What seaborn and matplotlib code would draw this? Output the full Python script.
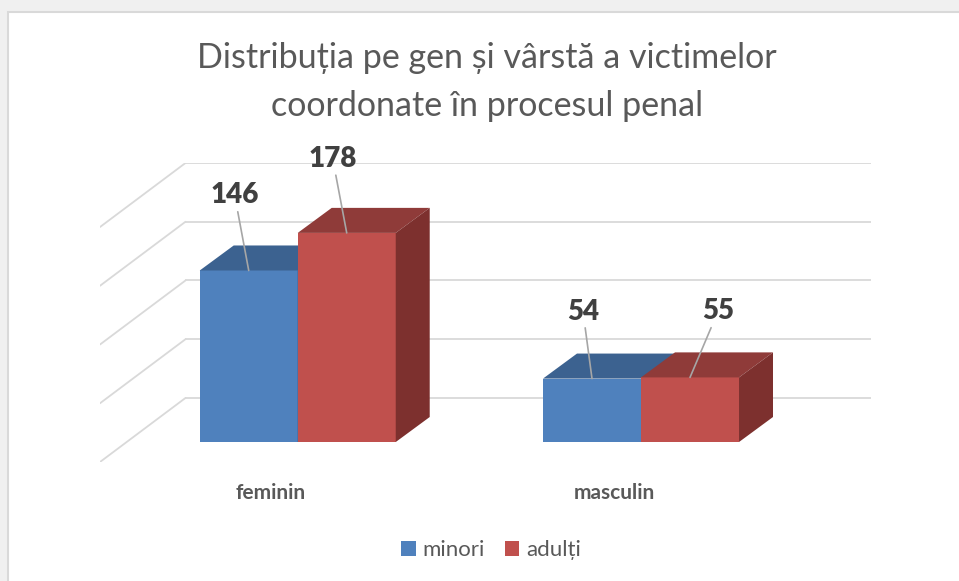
import numpy as np
import pandas as pd
import matplotlib
matplotlib.use("Agg")
import matplotlib.pyplot as plt
from matplotlib.patches import Polygon, Rectangle, Patch
import seaborn as sns

# --- data ---
CATEGORIES = ["feminin", "masculin"]
GROUPS = ["minori", "adulți"]
MINORI = [146, 54]
ADULTI = [178, 55]
GRID_VALUES = [0, 50, 100, 150, 200]
TITLE = "Distribuția pe gen și vârstă a victimelor\ncoordonate în procesul penal"

# --- style ---
FRONT = {"minori": "#4f81bd", "adulți": "#c0504d"}
TOP = {"minori": "#3c6290", "adulți": "#8f3b39"}
SIDE = {"minori": "#345480", "adulți": "#7d302e"}
BAR_DEPTH = (0.099, 21.3)      # oblique offset of a bar's back face (data units)
FLOOR_FRONT = (-0.079, -17.0)  # front edge of the floor relative to bar fronts
WALL = (0.170, 37.5)           # back wall relative to bar fronts
XLIM = (-0.576, 1.670)
YLIM = (FLOOR_FRONT[1], GRID_VALUES[-1] + WALL[1])
LABEL_OFFSETS = [(-14, 75), (-14, 74), (-9, 67), (28, 66)]  # pixels, bars left to right

sns.set_style("white")
plt.rcParams["font.family"] = ["Lato", "DejaVu Sans"]

df = pd.DataFrame({
    "gen": CATEGORIES * 2,
    "grupa": [GROUPS[0]] * len(CATEGORIES) + [GROUPS[1]] * len(CATEGORIES),
    "numar": MINORI + ADULTI,
})

W, H, DPI = 959, 581, 100
fig = plt.figure(figsize=(W / DPI, H / DPI), dpi=DPI)
fig.patch.set_facecolor("#f0f0f0")
fig.add_artist(Rectangle((7.5 / W, -0.05), 1.1, 1.05 - 12.5 / H, transform=fig.transFigure,
                         facecolor="white", edgecolor="#d9d9d9", lw=1.5, zorder=-1))

ax = fig.add_axes([100 / W, 1 - 462 / H, 771 / W, 299 / H])
ax.patch.set_visible(False)

sns.barplot(data=df, x="gen", y="numar", hue="grupa", order=CATEGORIES, hue_order=GROUPS,
            palette=[FRONT[g] for g in GROUPS], saturation=1, width=0.571,
            linewidth=0, legend=False, ax=ax)

# back wall + left side wall gridlines
wall_left = XLIM[0] + (WALL[0] - FLOOR_FRONT[0])
for g in GRID_VALUES:
    ax.plot([wall_left, XLIM[1]], [g + WALL[1]] * 2, color="#d9d9d9", lw=1.3, zorder=1,
            solid_capstyle="butt")
    ax.plot([wall_left, XLIM[0]], [g + WALL[1], g + FLOOR_FRONT[1]], color="#d9d9d9",
            lw=1.3, zorder=1)

# 3D faces for each bar
bars = sorted([p for p in ax.patches if p.get_width() > 0], key=lambda p: p.get_x())
dx, dy = BAR_DEPTH
for i, p in enumerate(bars):
    grp = GROUPS[0] if p.get_facecolor()[:3] == matplotlib.colors.to_rgb(FRONT[GROUPS[0]]) else GROUPS[1]
    x0, w, h = p.get_x(), p.get_width(), p.get_height()
    p.set_zorder(3 + 3 * i)
    top = Polygon([(x0, h), (x0 + w, h), (x0 + w + dx, h + dy), (x0 + dx, h + dy)],
                  closed=True, facecolor=TOP[grp], edgecolor="none", zorder=4 + 3 * i)
    side = Polygon([(x0 + w, 0), (x0 + w + dx, dy), (x0 + w + dx, h + dy), (x0 + w, h)],
                   closed=True, facecolor=SIDE[grp], edgecolor="none", zorder=5 + 3 * i)
    ax.add_patch(top)
    ax.add_patch(side)
    ax.annotate(f"{h:.0f}", xy=(x0 + w / 2, h), xytext=LABEL_OFFSETS[i],
                textcoords="offset pixels", ha="center", va="center",
                fontsize=20, fontweight="heavy", color="#404040", zorder=30,
                arrowprops=dict(arrowstyle="-", color="#a6a6a6", lw=1.2,
                                shrinkA=0, shrinkB=0))

ax.set_xlim(*XLIM)
ax.set_ylim(*YLIM)
ax.set_xticks(np.arange(len(CATEGORIES)) + FLOOR_FRONT[0])
ax.set_xticklabels(CATEGORIES, fontsize=15, fontweight="bold", color="#595959")
ax.tick_params(axis="x", length=0, pad=15)
ax.set_yticks([])
ax.set_xlabel("")
ax.set_ylabel("")
sns.despine(ax=ax, left=True, bottom=True)

fig.text(487 / W, 1 - 42 / H, TITLE, ha="center", va="top", fontsize=24.5,
         fontweight="normal", color="#595959", linespacing=1.6)

handles = [Patch(facecolor=FRONT[g], edgecolor="none", label=g) for g in GROUPS]
fig.legend(handles=handles, loc="center", bbox_to_anchor=(491 / W, 1 - 550 / H), ncol=2,
           frameon=False, fontsize=16, labelcolor="#595959", handlelength=0.65,
           handleheight=0.65, handletextpad=0.3, columnspacing=0.9)

fig.savefig("out.png", dpi=DPI)
